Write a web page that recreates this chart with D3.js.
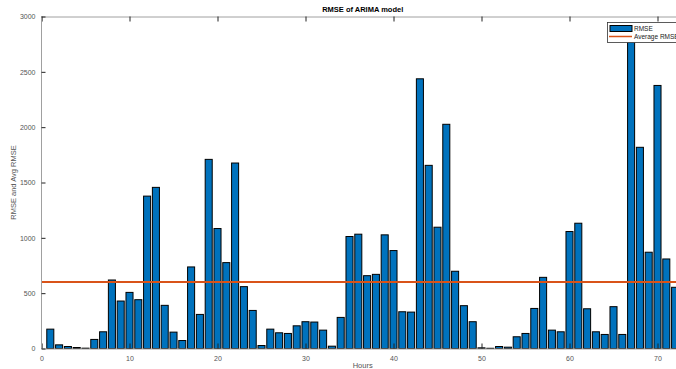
<!DOCTYPE html>
<html><head><meta charset="utf-8">
<script src="https://cdn.jsdelivr.net/npm/d3@7"></script>
<style>body{margin:0;background:#fff;overflow:hidden}svg{display:block;font-family:"Liberation Sans",Arial,sans-serif}</style>
</head><body>
<script>
const hours = d3.range(1, 73);
const rmse = [175,33,18,9,3,82,151,619,429,507,441,1377,1456,390,148,72,737,308,1709,1084,776,1676,559,344,27,175,142,136,205,242,239,166,21,281,1012,1033,658,670,1027,885,332,329,2437,1655,1096,2026,698,387,242,6,2,18,12,106,136,362,643,166,151,1057,1132,359,151,127,378,127,2850,1818,870,2377,809,553];
const avgRmse = 601;
const xTicks = [0,10,20,30,40,50,60,70];
const yTicks = [0,500,1000,1500,2000,2500,3000];
const titleText = "RMSE of ARIMA model";
const xLabel = "Hours", yLabel = "RMSE and Avg RMSE";
const legendLabels = ["RMSE","Average RMSE"];

const W = 676, H = 369;
const svg = d3.select("body").append("svg").attr("width", W).attr("height", H);
const x = d3.scaleLinear().domain([0, 73]).range([41.5, 41.5 + 73 * 8.8]);
const y = d3.scaleLinear().domain([0, 3000]).range([348.5, 16.5]);
const bw = x(0.8) - x(0);
const blue = "#0072BD", orange = "#D95319";

// bars
svg.append("g").selectAll("rect").data(hours).join("rect")
  .attr("x", d => x(d) - bw / 2).attr("width", bw)
  .attr("y", (d, i) => y(Math.min(rmse[i], 3000)))
  .attr("height", (d, i) => y(0) - y(Math.min(rmse[i], 3000)))
  .attr("fill", blue).attr("stroke", "#000").attr("stroke-width", 1);

// average line
svg.append("line").attr("x1", x(0)).attr("x2", x(73))
  .attr("y1", y(avgRmse)).attr("y2", y(avgRmse))
  .attr("stroke", orange).attr("stroke-width", 2);

// axes
const axisCol = "#a0a0a0";
const gBottom = svg.append("g").attr("transform", `translate(0,${y(0)})`)
  .call(d3.axisBottom(x).tickValues(xTicks).tickSize(-5).tickPadding(8).tickFormat(d3.format("d")));
const gTop = svg.append("g").attr("transform", `translate(0,${y(3000)})`)
  .call(d3.axisTop(x).tickValues(xTicks).tickSize(-5).tickFormat(""));
const gLeft = svg.append("g").attr("transform", `translate(${x(0)},0)`)
  .call(d3.axisLeft(y).tickValues(yTicks).tickSize(-4).tickPadding(6).tickFormat(d3.format("d")));
[gBottom, gTop, gLeft].forEach(g => {
  g.select(".domain").attr("stroke", axisCol);
  g.selectAll(".tick line").attr("stroke", "#222");
  g.selectAll(".tick text").attr("fill", "#555").style("font-size", "7px");
});
gLeft.select(".domain").attr("d", `M0,${y(0)}V${y(3000)}`);

// labels
svg.append("text").attr("x", x(36.5)).attr("y", 12).attr("text-anchor", "middle")
  .style("font-size", "7.5px").style("font-weight", "bold").attr("fill", "#000").text(titleText);
svg.append("text").attr("x", x(36.5)).attr("y", 368).attr("text-anchor", "middle")
  .style("font-size", "7.5px").attr("fill", "#555").text(xLabel);
svg.append("text").attr("transform", `translate(16,${y(1500)}) rotate(-90)`).attr("text-anchor", "middle")
  .style("font-size", "7.5px").attr("fill", "#555").text(yLabel);

// legend
const lg = svg.append("g");
lg.append("rect").attr("x", 607.5).attr("y", 22.5).attr("width", 80).attr("height", 20)
  .attr("fill", "#fff").attr("stroke", "#333").attr("stroke-width", 0.8);
lg.append("rect").attr("x", 610).attr("y", 25.5).attr("width", 22).attr("height", 6)
  .attr("fill", blue).attr("stroke", "#000").attr("stroke-width", 1);
lg.append("line").attr("x1", 609).attr("x2", 632).attr("y1", 36.5).attr("y2", 36.5)
  .attr("stroke", orange).attr("stroke-width", 1.5);
lg.selectAll("text").data(legendLabels).join("text")
  .attr("x", 634).attr("y", (d, i) => 31 + i * 8)
  .style("font-size", "6.5px").attr("fill", "#222").text(d => d);
</script>
</body></html>
